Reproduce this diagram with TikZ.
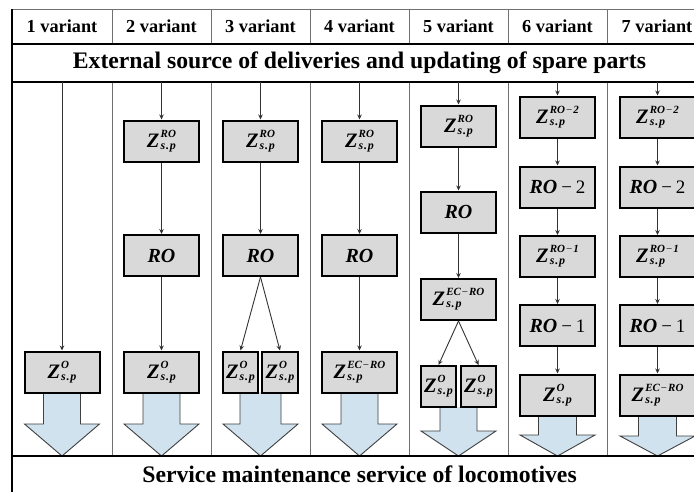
\documentclass[tikz,border=0pt]{standalone}
\usepackage{fontspec}
\setmainfont{Liberation Serif}
\usetikzlibrary{arrows.meta}
\definecolor{boxgray}{HTML}{D9D9D9}
\definecolor{arrowblue}{HTML}{CFE2EE}
\definecolor{sepgray}{HTML}{707070}

\newsavebox\zsupbox
\newsavebox\zsubbox
\newlength\zwid
\newcommand\zfont{\fontsize{20.5}{20.5}\selectfont\bfseries\itshape}
\newcommand\zsupfont{\fontsize{11}{11}\selectfont\bfseries\itshape}
\newcommand\zsubfont{\fontsize{12}{12}\selectfont\bfseries\itshape}
\newcommand\zmin{\kern1pt{\mdseries\upshape −}\kern1pt}
\newcommand\zz[1]{%
  \sbox\zsupbox{\zsupfont #1}\sbox\zsubbox{\zsubfont s\kern0.8pt.\kern0.8pt p}%
  \setlength\zwid{\wd\zsubbox}\ifdim\wd\zsupbox>\zwid\setlength\zwid{\wd\zsupbox}\fi
  {\zfont Z}\kern1.2pt\makebox[\zwid][l]{\rlap{\raisebox{9.8pt}{\usebox\zsupbox}}\raisebox{-2pt}{\usebox\zsubbox}}}
\newcommand\rotext[1]{{\fontsize{20}{20}\selectfont\bfseries\itshape RO}#1}
\newcommand\rominus[1]{{\fontsize{19}{19}\selectfont\kern4pt−\kern4pt#1}}

\begin{document}
\begin{tikzpicture}[x=1pt,y=-1pt,
  zbox/.style={draw=black,line width=2pt,fill=boxgray,minimum width=75pt,minimum height=41pt,inner sep=0pt},
  nbox/.style={zbox,minimum width=35pt},
  conn/.style={draw=black!80,line width=0.9pt,-{Stealth[length=5pt,width=4.5pt]}},
  sep/.style={draw=sepgray,line width=0.9pt},
  frame/.style={draw=black,line width=1.8pt},
  hdr/.style={font=\fontsize{18.3}{18.3}\selectfont\bfseries},
  barrow/.style={draw=black!75,line width=0.9pt,fill=arrowblue}
]
\useasboundingbox (0,0) rectangle (694,491);
\fill[white] (0,0) rectangle (694,491);

% block arrows: center x, top, head base, shaft half width
\newcommand\barr[4]{\filldraw[barrow] ({#1-#4},#2) -- ({#1-#4},#3) -- ({#1-37.5},#3) -- (#1,456) -- ({#1+37.5},#3) -- ({#1+#4},#3) -- ({#1+#4},#2);}

% header row
\draw[sep] (12,9) rectangle (707,44);
\foreach \x in {112,211,310,409,508,607}{
  \draw[sep] (\x,9) -- (\x,44);
  \draw[sep] (\x,82) -- (\x,456);
}
\node[hdr] (h1) at (62,26.5) {1 variant};
\node[hdr] (h2) at (161.5,26.5) {2 variant};
\node[hdr] (h3) at (260.5,26.5) {3 variant};
\node[hdr] (h4) at (359.5,26.5) {4 variant};
\node[hdr] (h5) at (458.5,26.5) {5 variant};
\node[hdr] (h6) at (557.5,26.5) {6 variant};
\node[hdr] (h7) at (657,26.5) {7 variant};

% title
\draw[frame] (12,44) rectangle (707,82);
\node[font=\fontsize{23.7}{24}\selectfont\bfseries] (title) at (359.5,63) {External source of deliveries and updating of spare parts};
\draw[frame,line width=1.4pt] (12,9) -- (12,510);

% block arrows
\barr{62}{392}{424}{18.5}
\barr{161.5}{392}{424}{18.5}
\barr{260.5}{392}{424}{20.5}
\barr{359.5}{392}{424}{18.5}
\barr{458.5}{407}{431}{18.5}
\barr{557.5}{415}{435}{19}
\barr{657.5}{415}{436}{19}

% bottom box
\draw[frame] (12,456) rectangle (707,520);
\node[font=\fontsize{23.7}{24}\selectfont\bfseries] (bottom) at (359.5,474) {Service maintenance service of locomotives};

% column 1
\coordinate (s1) at (62,82);
\node[zbox] (a1) at (62,372) {\zz{O}};
\draw[conn] (s1) -- (a1);

% column 2
\coordinate (s2) at (161.5,82);
\node[zbox] (b1) at (161.5,141) {\zz{RO}};
\node[zbox] (b2) at (161.5,255.5) {\rotext{}};
\node[zbox] (b3) at (161.5,372) {\zz{O}};
\draw[conn] (s2) -- (b1);
\draw[conn] (b1) -- (b2);
\draw[conn] (b2) -- (b3);

% column 3
\coordinate (s3) at (260.5,82);
\node[zbox] (c1) at (260.5,141) {\zz{RO}};
\node[zbox] (c2) at (260.5,255.5) {\rotext{}};
\node[nbox] (c3) at (240.5,372) {\zz{O}};
\node[nbox,minimum width=36pt] (c4) at (280,372) {\zz{O}};
\draw[conn] (s3) -- (c1);
\draw[conn] (c1) -- (c2);
\draw[conn] (c2.south) -- (c3.north);
\draw[conn] (c2.south) -- (c4.north);

% column 4
\coordinate (s4) at (359.5,82);
\node[zbox] (d1) at (359.5,141) {\zz{RO}};
\node[zbox] (d2) at (359.5,255.5) {\rotext{}};
\node[zbox] (d3) at (359.5,372) {\zz{EC\zmin RO}};
\draw[conn] (s4) -- (d1);
\draw[conn] (d1) -- (d2);
\draw[conn] (d2) -- (d3);

% column 5
\coordinate (s5) at (458.5,82);
\node[zbox] (e1) at (458.5,126) {\zz{RO}};
\node[zbox] (e2) at (458.5,212) {\rotext{}};
\node[zbox] (e3) at (458.5,299.5) {\zz{EC\zmin RO}};
\node[nbox] (e4) at (438.5,386.5) {\zz{O}};
\node[nbox] (e5) at (478.5,386.5) {\zz{O}};
\draw[conn] (s5) -- (e1);
\draw[conn] (e1) -- (e2);
\draw[conn] (e2) -- (e3);
\draw[conn] (e3.south) -- (e4.north);
\draw[conn] (e3.south) -- (e5.north);

% column 6
\coordinate (s6) at (557.5,82);
\node[zbox] (f1) at (557.5,117) {\zz{RO\zmin 2}};
\node[zbox] (f2) at (557.5,187) {\rotext{\rominus{2}}};
\node[zbox] (f3) at (557.5,256.5) {\zz{RO\zmin 1}};
\node[zbox] (f4) at (557.5,325.5) {\rotext{\rominus{1}}};
\node[zbox] (f5) at (557.5,395) {\zz{O}};
\draw[conn] (s6) -- (f1);
\draw[conn] (f1) -- (f2);
\draw[conn] (f2) -- (f3);
\draw[conn] (f3) -- (f4);
\draw[conn] (f4) -- (f5);

% column 7
\coordinate (s7) at (657.5,82);
\node[zbox] (g1) at (657.5,117) {\zz{RO\zmin 2}};
\node[zbox] (g2) at (657.5,187) {\rotext{\rominus{2}}};
\node[zbox] (g3) at (657.5,256.5) {\zz{RO\zmin 1}};
\node[zbox] (g4) at (657.5,325.5) {\rotext{\rominus{1}}};
\node[zbox] (g5) at (657.5,395) {\zz{EC\zmin RO}};
\draw[conn] (s7) -- (g1);
\draw[conn] (g1) -- (g2);
\draw[conn] (g2) -- (g3);
\draw[conn] (g3) -- (g4);
\draw[conn] (g4) -- (g5);
\end{tikzpicture}
\end{document}
